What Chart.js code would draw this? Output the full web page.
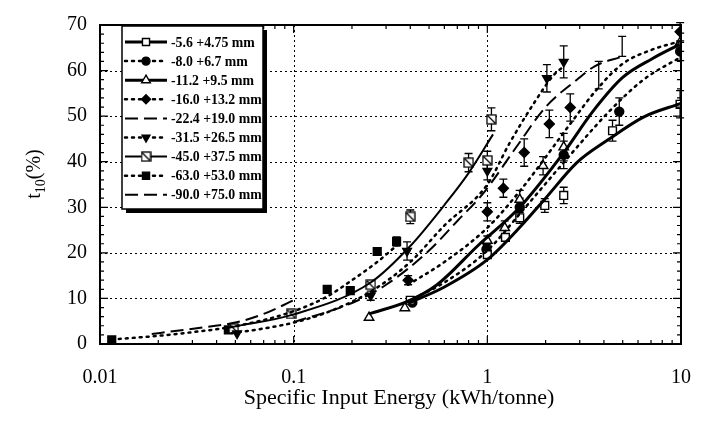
<!DOCTYPE html>
<html><head><meta charset="utf-8">
<style>html,body{margin:0;padding:0;background:#fff}#wrap{width:713px;height:426px;position:relative}</style>
<script src="https://cdn.jsdelivr.net/npm/chart.js@4"></script>
</head><body><div id="wrap"><canvas id="c" width="713" height="426"></canvas></div>
<script>
// ---- tick values / labels ----
const xTickValues = [0.01, 0.1, 1, 10];
const yTickValues = [0, 10, 20, 30, 40, 50, 60, 70];
const seriesLabels = ['-5.6 +4.75 mm', '-8.0 +6.7 mm', '-11.2 +9.5 mm', '-16.0 +13.2 mm',
  '-22.4 +19.0 mm', '-31.5 +26.5 mm', '-45.0 +37.5 mm', '-63.0 +53.0 mm', '-90.0 +75.0 mm'];
const xTitle = 'Specific Input Energy (kWh/tonne)';

// ---- measured points (x = kWh/t, y = t10 %, e = error half-width) ----
const s1X = [0.40, 1.00, 1.24, 1.47, 1.98, 2.48, 4.43, 9.89];
const s1Y = [9.6, 19.6, 23.4, 27.7, 30.4, 32.6, 46.8, 52.6];
const s1E = [0, 0.8, 0.8, 1.2, 1.5, 1.8, 2.3, 3.0];

const s2X = [0.41, 0.99, 1.47, 2.48, 4.8, 9.9];
const s2Y = [9.1, 20.8, 30.0, 41.5, 51.0, 64.2];
const s2E = [0, 1.0, 2.0, 3.0, 3.0, 2.0];

const s3X = [0.245, 0.375, 1.0, 1.23, 1.47, 1.94, 2.48, 9.9];
const s3Y = [5.8, 7.9, 22.7, 25.5, 31.7, 39.1, 43.2, 66.2];
const s3E = [0, 0, 1.0, 1.5, 2.0, 2.0, 3.0, 2.0];

const s4X = [0.39, 1.0, 1.21, 1.55, 2.09, 2.68, 9.9];
const s4Y = [14.0, 29.0, 34.2, 42.0, 48.3, 51.9, 68.5];
const s4E = [1.0, 2.0, 2.0, 3.0, 3.0, 3.0, 2.0];

const s5X = [3.76, 4.97];
const s5Y = [59.0, 65.3];
const s5E = [3.0, 2.2];

const s6X = [0.051, 0.25, 0.385, 1.0, 2.03, 2.48];
const s6Y = [2.3, 10.6, 20.4, 38.0, 58.3, 61.9];
const s6E = [0, 1.0, 2.0, 2.0, 3.0, 3.5];

const s7X = [0.049, 0.097, 0.25, 0.40, 0.80, 1.0, 1.05];
const s7Y = [3.4, 6.6, 13.0, 27.9, 39.8, 40.3, 49.3];
const s7E = [0, 0, 0, 1.5, 2.0, 2.0, 2.5];

const s8X = [0.0115, 0.046, 0.149, 0.196, 0.27, 0.34];
const s8Y = [0.9, 3.1, 12.0, 11.7, 20.3, 22.5];
const s8E = [0, 0, 0, 0, 0.8, 1.0];

// ---- fitted curves ----
const f1X = [0.39, 0.6, 1.0, 1.5, 2.0, 2.9, 4.2, 6.4, 10];
const f1Y = [8.9, 12.5, 18.5, 26.0, 32.0, 39.8, 44.8, 49.8, 52.8];
const f2X = [0.39, 0.6, 1.0, 1.5, 2.5, 4.25, 6.4, 10];
const f2Y = [9.4, 13.5, 20.5, 29.0, 40.0, 51.0, 58.0, 63.0];
const f3X = [0.245, 0.39, 0.55, 0.89, 1.47, 2.48, 3.5, 5.0, 7.1, 9.8];
const f3Y = [6.6, 9.4, 13.0, 21.5, 30.0, 42.0, 51.0, 58.5, 62.6, 65.7];
const f4X = [0.39, 0.6, 1.0, 1.5, 2.0, 2.7, 3.7, 5.0, 7.0, 10];
const f4Y = [13.0, 18.0, 25.5, 34.0, 41.0, 48.5, 56.0, 61.5, 64.5, 66.5];
const f5X = [0.1, 0.2, 0.3, 0.5, 0.7, 0.95, 1.4, 2.0, 2.9, 3.6, 4.9];
const f5Y = [4.8, 9.0, 13.0, 20.5, 27.0, 33.0, 43.0, 52.0, 58.0, 61.0, 63.0];
const f6X = [0.048, 0.07, 0.1, 0.15, 0.25, 0.4, 0.6, 1.0, 1.3, 1.75, 2.2, 2.5];
const f6Y = [2.4, 3.4, 4.7, 7.0, 11.5, 18.0, 26.0, 35.0, 44.0, 53.0, 59.0, 61.0];
const f7X = [0.048, 0.1, 0.25, 0.4, 0.6, 0.8, 1.07];
const f7Y = [3.7, 6.5, 13.5, 21.5, 30.5, 37.5, 46.0];
const f8X = [0.0115, 0.02, 0.03, 0.05, 0.1, 0.15, 0.2, 0.27, 0.36];
const f8Y = [1.0, 1.8, 2.6, 3.9, 7.2, 10.5, 14.0, 18.0, 22.5];
const f9X = [0.0185, 0.025, 0.035, 0.05, 0.07, 0.1];
const f9Y = [2.2, 2.9, 3.7, 4.7, 6.6, 9.6];

// ---- styles ----
const FONT = "'Liberation Serif', 'Times New Roman', serif";
const DOT = [2, 5];
const DASH = [13, 6];
function makeSlashSquare(){
  const c = document.createElement('canvas');
  c.width = 11; c.height = 11;
  const g = c.getContext('2d');
  g.fillStyle = '#fff'; g.fillRect(1, 1, 9, 9);
  g.strokeStyle = '#000'; g.lineWidth = 1.3;
  g.strokeRect(1, 1, 9, 9);
  g.beginPath(); g.moveTo(1.5, 1.5); g.lineTo(9.5, 9.5); g.stroke();
  return c;
}
const slashSq = makeSlashSquare();

const markerStyles = [
  {style: 'rect', fill: '#fff', r: 5.5, rot: 0},
  {style: 'circle', fill: '#000', r: 4.5, rot: 0},
  {style: 'triangle', fill: '#fff', r: 5.5, rot: 0},
  {style: 'rectRot', fill: '#000', r: 5, rot: 0},
  {style: false, fill: '#000', r: 0, rot: 0},
  {style: 'triangle', fill: '#000', r: 5, rot: 180},
  {style: slashSq, fill: '#fff', r: 5.5, rot: 0},
  {style: 'rect', fill: '#000', r: 5.5, rot: 0},
  {style: false, fill: '#000', r: 0, rot: 0}
];
const lineStyles = [
  {w: 3, dash: []}, {w: 2.5, dash: DOT}, {w: 3, dash: []}, {w: 2.5, dash: DOT},
  {w: 2, dash: DASH}, {w: 2.5, dash: DOT}, {w: 2, dash: []}, {w: 2.5, dash: DOT}, {w: 2, dash: DASH}
];

const markerSets = [[s1X,s1Y,s1E],[s2X,s2Y,s2E],[s3X,s3Y,s3E],[s4X,s4Y,s4E],[s5X,s5Y,s5E],
  [s6X,s6Y,s6E],[s7X,s7Y,s7E],[s8X,s8Y,s8E],null];
const fitSets = [[f1X,f1Y],[f2X,f2Y],[f3X,f3Y],[f4X,f4Y],[f5X,f5Y],[f6X,f6Y],[f7X,f7Y],[f8X,f8Y],[f9X,f9Y]];

function pts(xs, ys){ return xs.map((x, i) => ({x: x, y: ys[i]})); }

const datasets = [];
fitSets.forEach((f, i) => {
  datasets.push({
    label: seriesLabels[i] + ' fit', data: pts(f[0], f[1]), showLine: true,
    borderColor: '#000', borderWidth: lineStyles[i].w, borderDash: lineStyles[i].dash,
    borderCapStyle: lineStyles[i].dash === DOT ? 'round' : 'butt',
    pointRadius: 0, pointHoverRadius: 0, cubicInterpolationMode: 'monotone', fill: false
  });
});
markerSets.forEach((m, i) => {
  if (!m) return;
  const ms = markerStyles[i];
  datasets.push({
    label: seriesLabels[i], data: pts(m[0], m[1]), errors: m[2], showLine: false,
    pointStyle: ms.style || 'circle', pointRadius: ms.r, pointRotation: ms.rot,
    pointBackgroundColor: ms.fill, pointBorderColor: '#000', pointBorderWidth: 1.4,
    borderColor: '#000', backgroundColor: ms.fill
  });
});

const framePlugin = {
  id: 'frame',
  beforeDatasetsDraw(chart){
    const {ctx, chartArea: a, scales: {x, y}} = chart;
    ctx.save();
    ctx.strokeStyle = '#000'; ctx.lineWidth = 1; ctx.setLineDash([2, 3]);
    [0.1, 1].forEach(v => { const px = Math.round(x.getPixelForValue(v)) + 0.5;
      ctx.beginPath(); ctx.moveTo(px, a.top); ctx.lineTo(px, a.bottom); ctx.stroke(); });
    yTickValues.slice(1, -1).forEach(v => { const py = Math.round(y.getPixelForValue(v)) + 0.5;
      ctx.beginPath(); ctx.moveTo(a.left, py); ctx.lineTo(a.right, py); ctx.stroke(); });
    ctx.setLineDash([]);
    // error bars
    chart.data.datasets.forEach(ds => {
      if (!ds.errors) return;
      ctx.lineWidth = 1.3;
      ds.data.forEach((p, k) => {
        const e = ds.errors[k]; if (!e) return;
        const px = x.getPixelForValue(p.x), y1 = y.getPixelForValue(p.y - e), y2 = y.getPixelForValue(p.y + e);
        ctx.beginPath(); ctx.moveTo(px, y1); ctx.lineTo(px, y2);
        ctx.moveTo(px - 4, y1); ctx.lineTo(px + 4, y1);
        ctx.moveTo(px - 4, y2); ctx.lineTo(px + 4, y2); ctx.stroke();
      });
    });
    ctx.restore();
  },
  afterDraw(chart){
    const {ctx, chartArea: a, scales: {x, y}} = chart;
    ctx.save();
    ctx.strokeStyle = '#000'; ctx.lineWidth = 1.2;
    [0.01, 0.1, 1].forEach(d => {
      for (let k = 1; k <= 9; k++) {
        const px = x.getPixelForValue(k * d), len = k === 1 ? 8 : 4;
        ctx.beginPath(); ctx.moveTo(px, a.bottom); ctx.lineTo(px, a.bottom - len);
        ctx.moveTo(px, a.top); ctx.lineTo(px, a.top + len); ctx.stroke();
      }
    });
    for (let v = 0; v <= 70; v += 2) {
      const py = y.getPixelForValue(v), len = v % 10 === 0 ? 8 : 4;
      ctx.beginPath(); ctx.moveTo(a.left, py); ctx.lineTo(a.left + len, py);
      ctx.moveTo(a.right, py); ctx.lineTo(a.right - len, py); ctx.stroke();
    }
    ctx.lineWidth = 2;
    ctx.strokeRect(a.left, a.top, a.right - a.left, a.bottom - a.top);

    // legend box
    const bx = 122, by = 26, bw = 141, bh = 183;
    ctx.fillStyle = '#000'; ctx.fillRect(bx + 4, by + 4, bw, bh);
    ctx.fillStyle = '#fff'; ctx.fillRect(bx, by, bw, bh);
    ctx.lineWidth = 1.5; ctx.strokeRect(bx, by, bw, bh);
    ctx.font = "bold 13.8px " + FONT; ctx.textBaseline = 'middle'; ctx.textAlign = 'left';
    seriesLabels.forEach((lab, i) => {
      const ry = 42 + i * 19.1;
      const ls = lineStyles[i];
      ctx.lineWidth = ls.w; ctx.setLineDash(ls.dash); ctx.lineCap = ls.dash === DOT ? 'round' : 'butt';
      ctx.beginPath(); ctx.moveTo(125, ry); ctx.lineTo(167, ry); ctx.stroke();
      ctx.setLineDash([]); ctx.lineCap = 'butt';
      const ms = markerStyles[i];
      if (ms.style) {
        ctx.fillStyle = ms.fill; ctx.strokeStyle = '#000'; ctx.lineWidth = 1.4;
        Chart.helpers.drawPoint(ctx, {pointStyle: ms.style, rotation: ms.rot, radius: ms.r - 0.5, borderWidth: 1.4}, 146, ry);
      }
      ctx.fillStyle = '#000';
      ctx.fillText(lab, 171, ry + 1);
    });

    // x title
    ctx.font = "22px " + FONT; ctx.textAlign = 'center'; ctx.textBaseline = 'middle'; ctx.fillStyle = '#000';
    ctx.fillText(xTitle, 399, 398);

    // y title with subscript
    ctx.save();
    ctx.translate(33, 174); ctx.rotate(-Math.PI / 2);
    ctx.fillStyle = '#000'; ctx.textBaseline = 'alphabetic'; ctx.textAlign = 'left';
    const t1 = 't', t3 = '(%)';
    ctx.font = "20px " + FONT; const w1 = ctx.measureText(t1).width;
    ctx.font = "14px " + FONT; const w2 = ctx.measureText('10').width;
    ctx.font = "20px " + FONT; const w3 = ctx.measureText(t3).width;
    let sx = -(w1 + w2 + w3) / 2;
    ctx.fillText(t1, sx, 7); sx += w1;
    ctx.font = "14px " + FONT; ctx.fillText('10', sx, 12); sx += w2;
    ctx.font = "20px " + FONT; ctx.fillText(t3, sx, 7);
    ctx.restore();
    ctx.restore();
  }
};

Chart.defaults.font.family = FONT;
Chart.defaults.color = '#000';

new Chart(document.getElementById('c'), {
  type: 'scatter',
  data: {datasets: datasets},
  options: {
    responsive: false, animation: false, devicePixelRatio: 1,
    layout: {padding: {top: 15, right: 28, left: 0, bottom: 0}},
    plugins: {legend: {display: false}, tooltip: {enabled: false}},
    scales: {
      x: {
        type: 'logarithmic', min: 0.01, max: 10, position: 'bottom',
        afterBuildTicks: s => { s.ticks = xTickValues.map(v => ({value: v, major: true})); },
        afterFit: s => { s.height = 82; },
        grid: {display: false, drawTicks: false}, border: {display: false},
        ticks: {autoSkip: false, maxRotation: 0, padding: 22, font: {size: 20}, callback: v => String(v)}
      },
      y: {
        min: 0, max: 70, position: 'left',
        afterBuildTicks: s => { s.ticks = yTickValues.map(v => ({value: v})); },
        afterFit: s => { s.width = 100; },
        grid: {display: false, drawTicks: false}, border: {display: false},
        ticks: {padding: 13, font: {size: 20}}
      }
    }
  },
  plugins: [framePlugin]
});
</script></body></html>
